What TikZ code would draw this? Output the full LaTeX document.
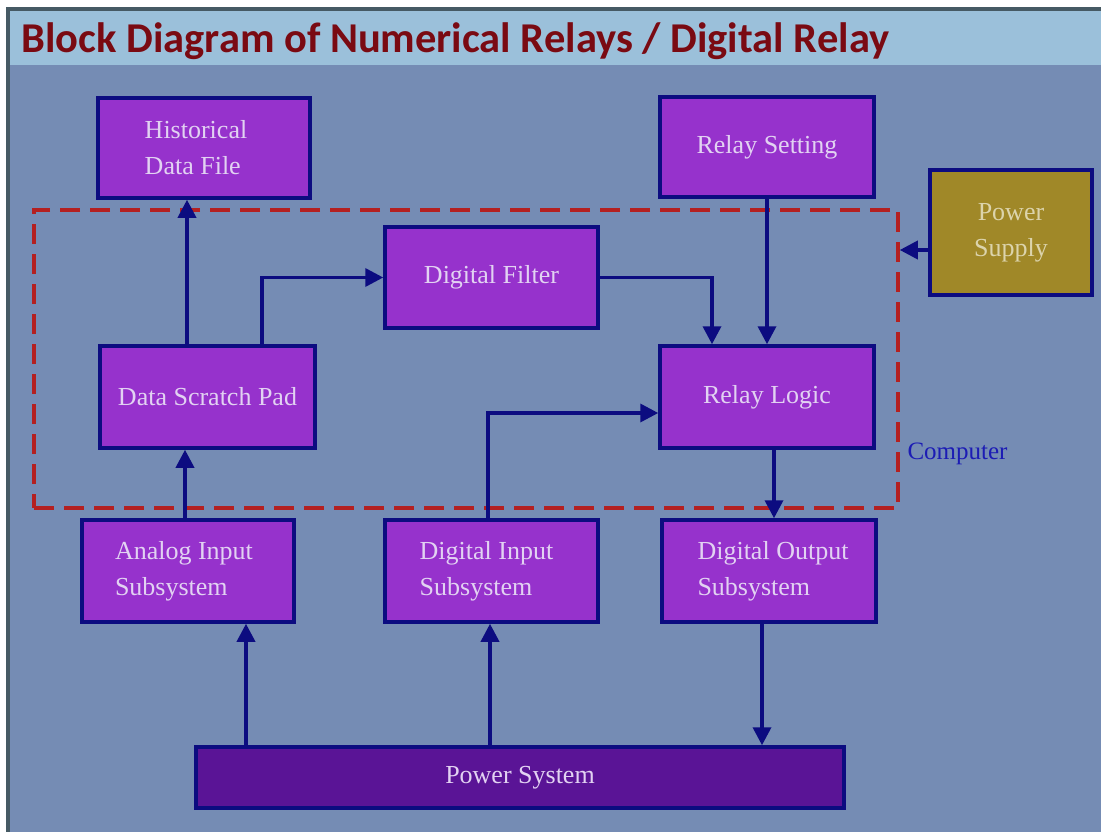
\documentclass[tikz,border=0pt]{standalone}
\usepackage{fontspec}
\setmainfont{Liberation Serif}
\newfontfamily\headfont{Carlito}
\usetikzlibrary{arrows.meta}

\definecolor{bandblue}{HTML}{9BC0DA}
\definecolor{bodyblue}{HTML}{758CB4}
\definecolor{framegray}{HTML}{465A64}
\definecolor{titlered}{HTML}{7A0A12}
\definecolor{navy}{HTML}{0C0C80}
\definecolor{blockfill}{HTML}{9632CC}
\definecolor{blocktext}{HTML}{E2D2F2}
\definecolor{sysfill}{HTML}{5A1496}
\definecolor{supplyfill}{HTML}{A08828}
\definecolor{supplytext}{HTML}{DCD4AC}
\definecolor{dashred}{HTML}{B42020}
\definecolor{labelblue}{HTML}{1C1CB4}

\tikzset{
  blk/.style={draw=navy, line width=3.5pt, fill=blockfill, text=blocktext,
    font=\fontsize{26}{36}\selectfont, inner sep=0pt, align=center,
    minimum height=101pt},
  lblk/.style={blk, align=left},
  conn/.style={draw=navy, line width=3.5pt,
    -{Triangle[length=18pt,width=18pt]}},
}

\begin{document}
\begin{tikzpicture}[x=1pt,y=-1pt]
  \useasboundingbox (0,0) rectangle (1101,832);
  % page background and frame
  \fill[white] (0,0) rectangle (1101,832);
  \fill[bodyblue] (8,9) rectangle (1101,832);
  \fill[bandblue] (8,11) rectangle (1101,65);
  \draw[framegray, line width=4pt] (8,832) -- (8,9) -- (1101,9);

  % heading
  \node[anchor=west, text=titlered, font=\headfont\bfseries\fontsize{42.5}{46}\selectfont]
    (title) at (18,41) {Block Diagram of Numerical Relays / Digital Relay};

  % computer boundary
  \node[draw=dashred, line width=3.5pt, dash pattern=on 20pt off 10pt,
    minimum width=864pt, minimum height=298pt, inner sep=0pt]
    (comp) at (466,359) {};
  \node[anchor=west, text=labelblue, font=\fontsize{25}{28}\selectfont]
    (complabel) at (904,454) {Computer};

  % blocks
  \node[lblk, minimum width=212pt, minimum height=100pt]
    (hist) at (204,148) {Historical\hspace*{16pt}\\Data File};
  \node[blk, minimum width=214pt, minimum height=100pt]
    (rset) at (767,147) {Relay Setting};
  \node[blk, fill=supplyfill, text=supplytext, minimum width=162pt,
    minimum height=125pt] (psup) at (1011,232.5) {Power\\Supply};
  \node[blk, minimum width=213pt] (filt) at (491.5,277.5) {Digital Filter};
  \node[blk, minimum width=215pt, minimum height=102pt]
    (dsp) at (207.5,397) {Data Scratch Pad};
  \node[blk, minimum width=214pt, minimum height=102pt]
    (rlog) at (767,397) {Relay Logic};
  \node[lblk, minimum width=212pt, minimum height=102pt]
    (ain) at (188,571) {Analog Input\hspace*{8pt}\\Subsystem};
  \node[lblk, minimum width=213pt, minimum height=102pt]
    (din) at (491.5,571) {Digital Input\hspace*{10pt}\\Subsystem};
  \node[lblk, minimum width=214pt, minimum height=102pt]
    (dout) at (769,571) {\hspace*{8pt}Digital Output\\\hspace*{8pt}Subsystem};
  \node[blk, fill=sysfill, text=blocktext, minimum width=648pt,
    minimum height=61pt] (psys) at (520,777.5) {Power System};

  % connector positions
  \coordinate (x185) at (185,0);
  \coordinate (x187) at (187,0);
  \coordinate (x246) at (246,0);
  \coordinate (x262) at (262,0);
  \coordinate (x488) at (488,0);
  \coordinate (x490) at (490,0);
  \coordinate (x712) at (712,0);
  \coordinate (x762) at (762,0);
  \coordinate (x774) at (774,0);
  \coordinate (y250) at (0,250);
  \coordinate (y413) at (0,413);

  % connectors
  \draw[conn] (x187 |- dsp.north) -- (x187 |- hist.south);
  \draw[conn] (x262 |- dsp.north) |- (filt.west);
  \draw[conn] (filt.east) -| (x712 |- rlog.north);
  \draw[conn] (rset.south) -- (rlog.north);
  \draw[conn] (psup.west |- y250) -- (comp.east |- y250);
  \draw[conn] (x488 |- din.north) |- (rlog.west |- y413);
  \draw[conn] (x774 |- rlog.south) -- (x774 |- dout.north);
  \draw[conn] (x185 |- ain.north) -- (x185 |- dsp.south);
  \draw[conn] (x246 |- psys.north) -- (x246 |- ain.south);
  \draw[conn] (x490 |- psys.north) -- (x490 |- din.south);
  \draw[conn] (x762 |- dout.south) -- (x762 |- psys.north);
\end{tikzpicture}
\end{document}
